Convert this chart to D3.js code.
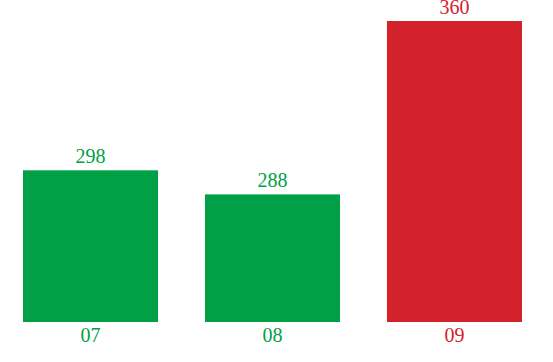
<!DOCTYPE html>
<html>
<head>
<meta charset="utf-8">
<script src="https://cdn.jsdelivr.net/npm/d3@7/dist/d3.min.js"></script>
<style>
  html, body { margin: 0; padding: 0; background: #fff; }
  svg { display: block; }
</style>
</head>
<body>
<svg id="chart" width="553" height="362"></svg>
<script>
const categories = ["07", "08", "09"];
const values = [298, 288, 360];
const colors = ["#00a046", "#00a046", "#d4222c"];

const svg = d3.select("#chart");
const x = d3.scaleBand().domain(categories).range([23, 522]).paddingInner(0.258).paddingOuter(0);
const y = d3.scaleLinear().domain([235, 360]).range([322, 21]);

const g = svg.append("g");
g.selectAll("rect").data(values).join("rect")
  .attr("x", (d, i) => x(categories[i]))
  .attr("width", x.bandwidth())
  .attr("y", d => y(d))
  .attr("height", d => y.range()[0] - y(d))
  .attr("fill", (d, i) => colors[i]);

g.selectAll("text.val").data(values).join("text")
  .attr("class", "val")
  .attr("x", (d, i) => x(categories[i]) + x.bandwidth() / 2)
  .attr("y", d => y(d) - 7.5)
  .attr("text-anchor", "middle")
  .attr("font-family", "'Liberation Serif', 'Times New Roman', serif")
  .attr("font-size", 20)
  .attr("fill", (d, i) => colors[i])
  .text(d => d);

g.selectAll("text.cat").data(categories).join("text")
  .attr("class", "cat")
  .attr("x", d => x(d) + x.bandwidth() / 2)
  .attr("y", 342)
  .attr("text-anchor", "middle")
  .attr("font-family", "'Liberation Serif', 'Times New Roman', serif")
  .attr("font-size", 20)
  .attr("fill", (d, i) => colors[i])
  .text(d => d);
</script>
</body>
</html>
